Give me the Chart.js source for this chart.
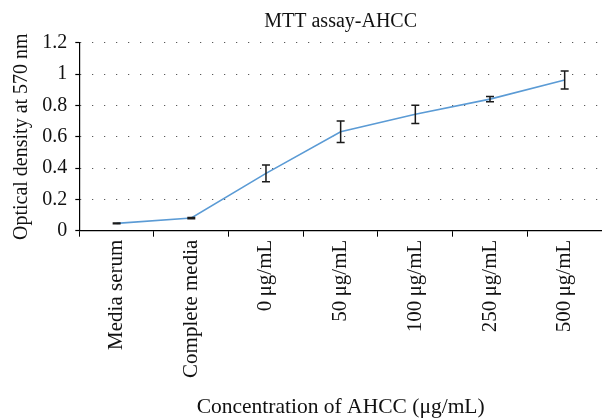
<!DOCTYPE html>
<html>
<head>
<meta charset="utf-8">
<script src="https://cdn.jsdelivr.net/npm/chart.js@4.4.1/dist/chart.umd.min.js"></script>
<style>
  html, body { margin: 0; padding: 0; background: #ffffff; }
  #wrap { width: 602px; height: 419px; position: relative; }
</style>
</head>
<body>
<div id="wrap"><canvas id="c" width="602" height="419"></canvas></div>
<script>
const categories = ['Media serum', 'Complete media', '0\u2009\u03bcg/mL', '50\u2009\u03bcg/mL', '100\u2009\u03bcg/mL', '250\u2009\u03bcg/mL', '500\u2009\u03bcg/mL'];
const opticalDensity = [0.047, 0.081, 0.366, 0.632, 0.743, 0.840, 0.962];
const errorValues = [0.002, 0.004, 0.054, 0.069, 0.058, 0.017, 0.058];
const yTicks = [0, 0.2, 0.4, 0.6, 0.8, 1, 1.2];
const chartTitle = 'MTT assay-AHCC';
const xTitle = 'Concentration of AHCC (\u03bcg/mL)';
const yTitle = 'Optical density at 570 nm';

const FONT = 'Liberation Serif';

const errorBarPlugin = {
  id: 'errorBars',
  afterDatasetsDraw(chart) {
    const ctx = chart.ctx;
    const xs = chart.scales.x, ys = chart.scales.y;
    ctx.save();
    ctx.strokeStyle = '#1a1a1a';
    ctx.lineWidth = 1.5;
    const cap = 4;
    opticalDensity.forEach((v, i) => {
      const e = errorValues[i];
      const x = xs.getPixelForValue(i);
      const yTop = ys.getPixelForValue(v + e);
      const yBot = ys.getPixelForValue(v - e);
      ctx.beginPath();
      ctx.moveTo(x, yTop); ctx.lineTo(x, yBot);
      ctx.moveTo(x - cap, yTop); ctx.lineTo(x + cap, yTop);
      ctx.moveTo(x - cap, yBot); ctx.lineTo(x + cap, yBot);
      ctx.stroke();
    });
    ctx.restore();
  }
};

new Chart(document.getElementById('c'), {
  type: 'line',
  data: {
    labels: categories,
    datasets: [{
      data: opticalDensity,
      borderColor: '#5b9bd5',
      borderWidth: 1.6,
      pointRadius: 0,
      tension: 0,
      fill: false
    }]
  },
  options: {
    responsive: false,
    animation: false,
    devicePixelRatio: 1,
    layout: { padding: 0 },
    plugins: {
      legend: { display: false },
      tooltip: { enabled: false },
      title: { display: false }
    },
    scales: {
      x: {
        type: 'category',
        position: 'bottom',
        offset: true,
        grid: {
          display: true,
          offset: true,
          drawOnChartArea: false,
          drawTicks: true,
          tickLength: 6,
          tickColor: '#000',
          color: '#000'
        },
        border: { display: true, color: '#000', width: 1.2 },
        ticks: {
          minRotation: 90,
          maxRotation: 90,
          autoSkip: false,
          padding: 3,
          color: '#111',
          font: { family: FONT, size: 21 }
        },
        title: {
          display: true,
          text: xTitle,
          color: '#111',
          font: { family: FONT, size: 21.5, lineHeight: 1.1 },
          padding: { top: 0, bottom: 0 }
        },
        afterFit(scale) { scale.height = 188.3; }
      },
      x2: {
        type: 'category',
        position: 'top',
        labels: categories,
        offset: true,
        grid: { display: false },
        border: { display: false },
        ticks: { display: false },
        title: {
          display: true,
          text: chartTitle,
          color: '#111',
          font: { family: FONT, size: 20 },
          padding: { top: 10, bottom: 0 }
        },
        afterFit(scale) { scale.height = 42.7; }
      },
      y: {
        min: 0,
        max: 1.2,
        afterBuildTicks(scale) { scale.ticks = yTicks.map(v => ({ value: v })); },
        grid: {
          display: true,
          color: '#333',
          lineWidth: 1,
          drawTicks: true,
          tickLength: 4,
          tickColor: '#000',
          tickBorderDash: [],
          tickWidth: 1.2
        },
        border: { display: true, color: '#000', width: 1.2, dash: [1, 11] },
        ticks: {
          padding: 8,
          color: '#111',
          font: { family: FONT, size: 20 },
          callback: (v) => String(v)
        },
        title: {
          display: true,
          text: yTitle,
          color: '#111',
          font: { family: FONT, size: 20 },
          padding: { top: 10, bottom: 0 }
        },
        afterFit(scale) { scale.width = 79.3; }
      }
    }
  },
  plugins: [errorBarPlugin]
});
</script>
</body>
</html>
